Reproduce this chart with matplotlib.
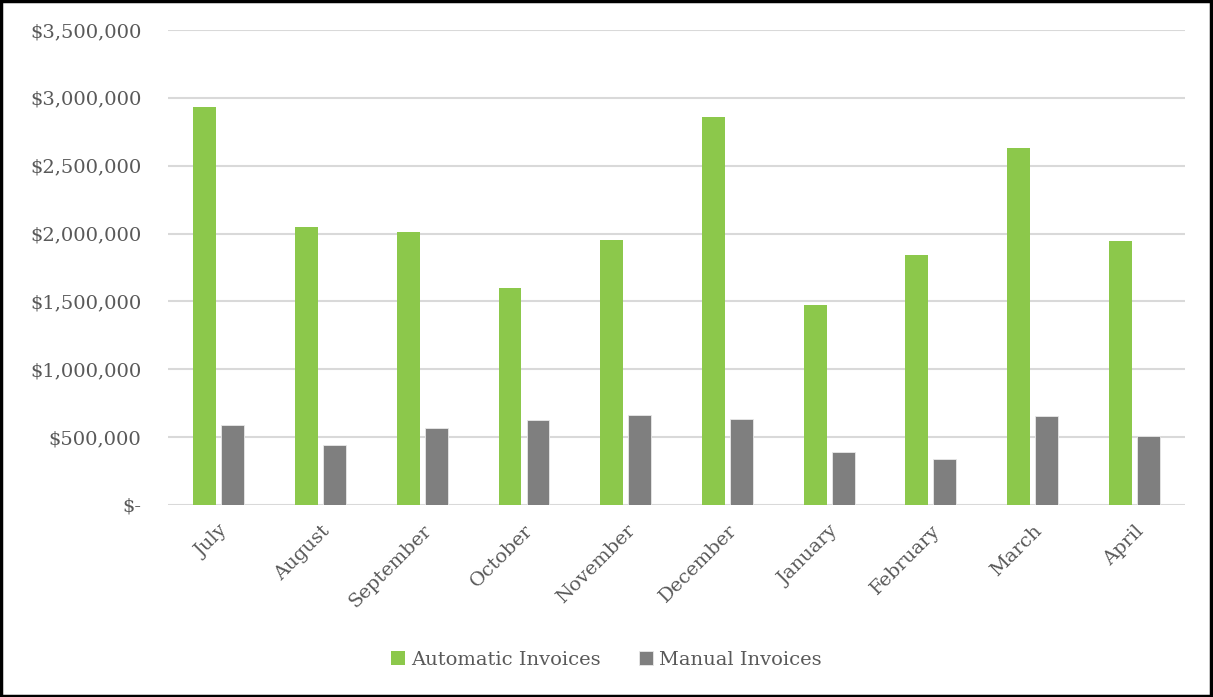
import matplotlib.pyplot as plt
import numpy as np
from matplotlib.patches import Rectangle
from matplotlib.ticker import FuncFormatter

# Monthly invoice totals
months = ['July', 'August', 'September', 'October', 'November',
          'December', 'January', 'February', 'March', 'April']
automatic = [2933000, 2048000, 2012000, 1599000, 1953000,
             2859000, 1474000, 1842000, 2631000, 1945000]
manual = [589000, 442000, 567000, 626000, 663000,
          634000, 390000, 339000, 656000, 508000]

plt.rcParams['font.family'] = ['DejaVu Serif']

fig = plt.figure(figsize=(12.13, 6.97), dpi=100)
ax = fig.add_axes([0.1385, 0.2755, 0.8385, 0.6815])

x = np.arange(len(months))
w = 0.225
ax.bar(x - 0.138, automatic, w, color='#8cc84b', label='Automatic Invoices', zorder=3)
ax.bar(x + 0.138, manual, w, color='#7f7f7f', edgecolor='#e8e8e8', linewidth=0.6,
       label='Manual Invoices', zorder=3)

ax.set_xlim(-0.5, len(months) - 0.5)
ax.set_ylim(0, 3500000)
ax.set_yticks(np.arange(0, 3500001, 500000))


def money(v, pos):
    if v == 0:
        return '$-'
    return '${:,.0f}'.format(v)


ax.yaxis.set_major_formatter(FuncFormatter(money))
ax.grid(axis='y', color='#d9d9d9', linewidth=1.5, zorder=0)
for s in ax.spines.values():
    s.set_visible(False)
ax.tick_params(axis='both', length=0, colors='#595959', labelsize=14)
ax.tick_params(axis='y', pad=19)
ax.set_xticks(x)
ax.set_xticklabels(months, rotation=45, ha='right', va='top', rotation_mode='anchor')
ax.tick_params(axis='x', pad=12)

fig.legend(loc='center', bbox_to_anchor=(0.5, 0.053), ncol=2, frameon=False,
           fontsize=14, handlelength=0.7, handleheight=0.7, columnspacing=2.0,
           handletextpad=0.3, labelcolor='#595959')

fig.patches.append(Rectangle((0.001, 0.002), 0.997, 0.996, transform=fig.transFigure,
                             fill=False, edgecolor='black', linewidth=2.5))

fig.savefig('out.png', dpi=100)
